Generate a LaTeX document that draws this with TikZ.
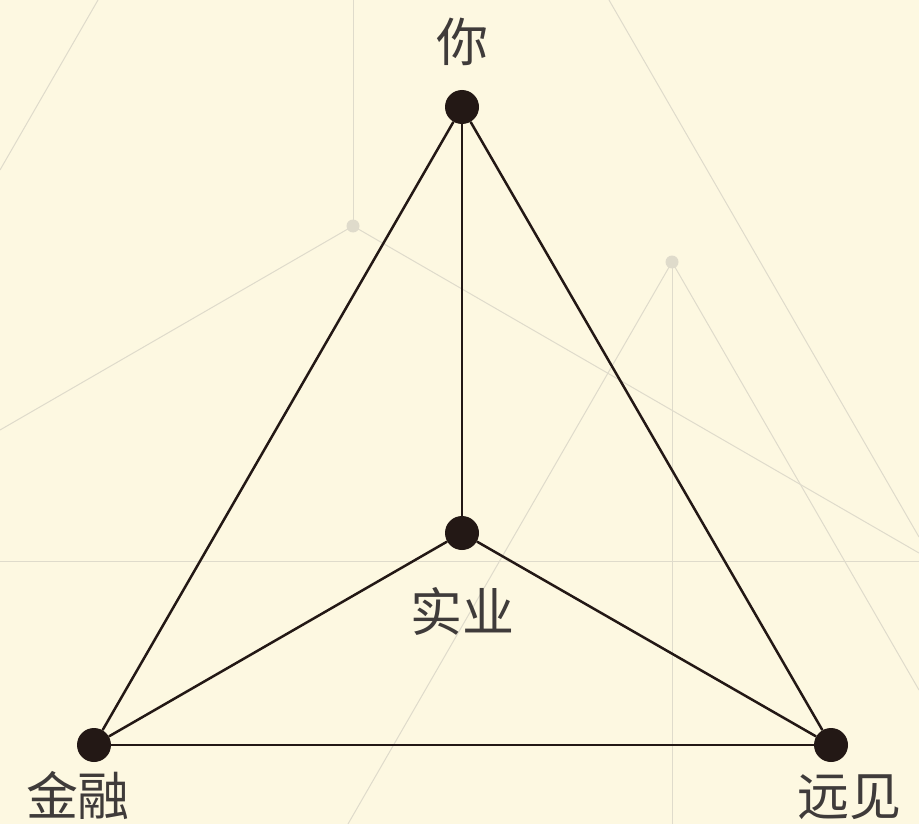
\documentclass[tikz,border=0pt]{standalone}
\usepackage{fontspec}
\newfontfamily\cjk{Noto Sans CJK SC}
\definecolor{bg}{HTML}{FDF8E1}
\definecolor{faint}{HTML}{DFDBCB}
\definecolor{ink}{HTML}{231815}
\definecolor{txt}{HTML}{3F3B3A}
\tikzset{
  dotnode/.style={circle,fill=ink,inner sep=0pt,minimum size=34pt},
  faintdot/.style={circle,fill=faint,inner sep=0pt,minimum size=13pt},
  faintline/.style={draw=faint,line width=1pt},
  link/.style={draw=ink,line width=2.5pt},
  lbl/.style={text=txt,font=\cjk\fontsize{52}{52}\selectfont,inner sep=0pt}
}
\begin{document}
\begin{tikzpicture}[x=1pt,y=-1pt]
\useasboundingbox (0,0) rectangle (919,824);
\fill[bg] (0,0) rectangle (919,824);
\begin{scope}
\clip (0,0) rectangle (919,824);
% background decoration
\coordinate (g1) at (353,226);
\coordinate (g2) at (672,262);
\coordinate (t1) at (98,0);
\coordinate (l1) at (0,170);
\coordinate (t2) at (353,0);
\coordinate (l2) at (0,430);
\coordinate (r1) at (919,553);
\coordinate (b1) at (672,824);
\coordinate (b2) at (348,824);
\coordinate (r2) at (919,690);
\coordinate (t3) at (609,0);
\coordinate (r3) at (919,537);
\coordinate (h1) at (0,561);
\coordinate (h2) at (919,561);
\draw[faintline] (t1) -- (l1);
\draw[faintline] (t2) -- (g1);
\draw[faintline] (g1) -- (l2);
\draw[faintline] (g1) -- (r1);
\draw[faintline] (g2) -- (b1);
\draw[faintline] (g2) -- (b2);
\draw[faintline] (g2) -- (r2);
\draw[faintline] (t3) -- (r3);
\draw[faintline] (h1) -- (h2);
\node[faintdot] (gd1) at (g1) {};
\node[faintdot] (gd2) at (g2) {};
\end{scope}
% main graph
\node[dotnode] (ni) at (462,107) {};
\node[dotnode] (sy) at (462,533) {};
\node[dotnode] (jr) at (94,745) {};
\node[dotnode] (yj) at (831,745) {};
\draw[link] (ni) -- (jr);
\draw[link] (ni) -- (yj);
\draw[link] (ni) -- (sy);
\draw[link] (sy) -- (jr);
\draw[link] (sy) -- (yj);
\draw[link] (jr) -- (yj);
\node[lbl] (lni) at (462,42) {你};
\node[lbl] (lsy) at (462,611) {实业};
\node[lbl] (ljr) at (78,796) {金融};
\node[lbl] (lyj) at (849,797) {远见};
\end{tikzpicture}
\end{document}
